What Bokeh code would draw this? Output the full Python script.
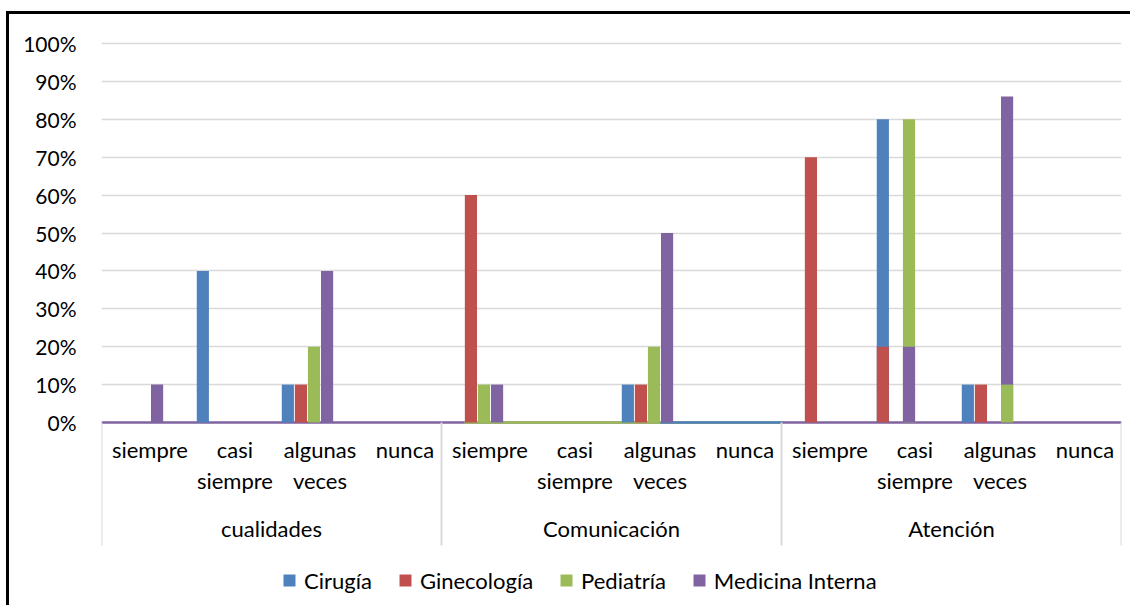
from bokeh.plotting import figure
from bokeh.models import Range1d, FixedTicker, NumeralTickFormatter, Legend, LegendItem
from bokeh.core.properties import value
from bokeh.embed import file_html
from bokeh.resources import INLINE

# ---------------- data ----------------
groups = ["cualidades", "Comunicación", "Atención"]
answers = ["siempre", "casi\nsiempre", "algunas\nveces", "nunca"]
series = ["Cirugía", "Ginecología", "Pediatría", "Medicina Interna"]
colors = ["#4f81bd", "#c0504d", "#9bbb59", "#8064a2"]

# percentages, one value per (group, answer), group-major order
cirugia = [0, 40, 10, 0, 0, 0, 10, 0, 0, 80, 10, 0]
ginecologia = [0, 0, 10, 0, 60, 0, 10, 0, 70, 0, 10, 0]
pediatria = [0, 0, 20, 0, 10, 0, 20, 0, 0, 80, 0, 0]
medicina_interna = [10, 0, 40, 0, 10, 0, 50, 0, 0, 0, 86, 0]
values = [cirugia, ginecologia, pediatria, medicina_interna]

# bars that the original chart draws in front of another series' column
overlay_series = ["Ginecología", "Medicina Interna", "Pediatría"]
overlay_group = ["Atención", "Atención", "Atención"]
overlay_answer = ["casi\nsiempre", "casi\nsiempre", "algunas\nveces"]
overlay_slot = ["Cirugía", "Pediatría", "Medicina Interna"]
overlay_values = [20, 20, 10]

# coloured zero lines (series drawn at 0) inside "Comunicación"
zero_series = ["Pediatría", "Cirugía"]
zero_group = ["Comunicación", "Comunicación"]
zero_start_answer = ["siempre", "algunas\nveces"]
zero_start_slot = ["Ginecología", "Medicina Interna"]

# ---------------- layout helpers ----------------
N_SLOTS = 5                       # 4 series + an empty slot, Excel gap 150%
SLOT = 1.0 / (N_SLOTS + 1.5)
BAR_W = SLOT * 0.93
FONT = "Lato"


def cat_index(g, a):
    return groups.index(g) * len(answers) + answers.index(a)


def slot_center(ci, s_idx):
    return ci + 0.5 + (s_idx - (N_SLOTS - 1) / 2) * SLOT


PX = 379.0                         # pixels per 100 %
y_end = 1.0 + 2 / PX
y_start = -184 / PX
axis_bottom = -123 / PX

p = figure(width=1124, height=594,
           x_range=Range1d(0, len(groups) * len(answers)),
           y_range=Range1d(y_start, y_end),
           output_backend="svg", toolbar_location=None,
           min_border_left=92, min_border_right=12,
           min_border_top=27, min_border_bottom=2)
p.styles = {"border-left": "3px solid black", "border-top": "3px solid black",
            "margin-left": "6px", "margin-top": "11px"}
p.outline_line_color = None
p.background_fill_color = "white"
p.xaxis.visible = False
p.xgrid.visible = False

ticks = [i / 10 for i in range(11)]
p.yaxis.ticker = FixedTicker(ticks=ticks)
p.yaxis.formatter = NumeralTickFormatter(format="0%")
p.yaxis.axis_line_color = None
p.yaxis.major_tick_line_color = None
p.yaxis.minor_tick_line_color = None
p.yaxis.major_tick_out = 0
p.yaxis.major_tick_in = 0
p.yaxis.minor_tick_out = 0
p.yaxis.major_label_standoff = 25
p.yaxis.major_label_text_font = FONT
p.yaxis.major_label_text_font_size = "21px"
p.yaxis.major_label_text_color = "black"
p.ygrid.ticker = FixedTicker(ticks=ticks)
p.ygrid.grid_line_color = "#d9d9d9"
p.ygrid.grid_line_width = 1.6

n_cat = len(groups) * len(answers)

# purple zero line across the whole axis (last series drawn on top)
p.segment(x0=[0], y0=[0], x1=[n_cat], y1=[0], line_color=colors[3], line_width=2.5)
# other coloured zero lines
for s, g, a, sl in zip(zero_series, zero_group, zero_start_answer, zero_start_slot):
    x0 = slot_center(cat_index(g, a), series.index(sl)) - SLOT / 2
    x1 = (groups.index(g) + 1) * len(answers)
    p.segment(x0=[x0], y0=[0], x1=[x1], y1=[0],
              line_color=colors[series.index(s)], line_width=2.5)

# main bars
legend_items = []
nan = float("nan")
for si, (name, vals) in enumerate(zip(series, values)):
    xs = [slot_center(ci, si) for ci in range(n_cat)]
    r = p.quad(left=[x - BAR_W / 2 for x in xs], right=[x + BAR_W / 2 for x in xs],
               top=[v / 100 for v in vals], bottom=0,
               fill_color=colors[si], line_color=None)
    # square swatch for the legend (not drawn in the plot area)
    sw = p.scatter(x=[nan], y=[nan], marker="square", size=12,
                   fill_color=colors[si], line_color=None)
    legend_items.append(LegendItem(label=name, renderers=[sw], index=0))

# overlapping bars
for s, g, a, sl, v in zip(overlay_series, overlay_group, overlay_answer, overlay_slot, overlay_values):
    x = slot_center(cat_index(g, a), series.index(sl))
    p.quad(left=[x - BAR_W / 2], right=[x + BAR_W / 2], top=[v / 100], bottom=0,
           fill_color=colors[series.index(s)], line_color=None)

# category separators
sep_x = [i * len(answers) for i in range(len(groups) + 1)]
p.segment(x0=sep_x, y0=[0] * len(sep_x), x1=sep_x, y1=[axis_bottom] * len(sep_x),
          line_color="#d9d9d9", line_width=2)

# answer labels
lab_x = [ci + 0.5 + 0.07 for ci in range(n_cat)]
lab_t = [answers[ci % len(answers)] for ci in range(n_cat)]
p.text(x=lab_x, y=[-13 / PX] * n_cat, text=lab_t,
       text_align="center", text_baseline="top",
       text_font=value(FONT), text_font_size="22px", text_color="black",
       text_line_height=1.17)

# group labels
gx = [gi * len(answers) + len(answers) / 2 for gi in range(len(groups))]
p.text(x=gx, y=[-106 / PX] * len(groups), text=groups,
       text_align="center", text_baseline="alphabetic",
       text_font=value(FONT), text_font_size="22px", text_color="black")

legend = Legend(items=legend_items, orientation="horizontal", location=(173, 11),
                glyph_width=30, glyph_height=30, label_standoff=-2, spacing=18,
                padding=0, margin=0, border_line_alpha=0, background_fill_alpha=0,
                label_text_font=FONT, label_text_font_size="22px",
                label_text_color="black")
p.add_layout(legend, "center")

open("out.html", "w").write(file_html(p, INLINE))
